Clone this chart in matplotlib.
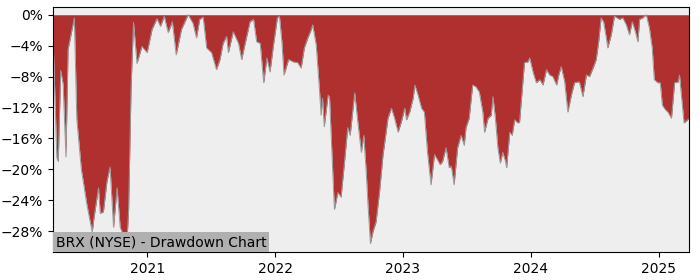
import pandas as pd
import matplotlib
matplotlib.use("Agg")
import matplotlib.pyplot as plt
import matplotlib.dates as mdates
from matplotlib.ticker import PercentFormatter, MultipleLocator

ticker = "BRX"
exchange = "NYSE"

# drawdown in percent
dates = [
    "2020-04-06", "2020-04-17", "2020-04-21", "2020-04-28", "2020-05-05", "2020-05-13",
    "2020-05-19", "2020-06-06", "2020-06-13", "2020-06-26", "2020-07-12", "2020-07-27",
    "2020-08-01", "2020-08-14", "2020-08-19", "2020-08-28", "2020-09-07", "2020-09-16",
    "2020-09-26", "2020-10-06", "2020-10-15", "2020-10-24", "2020-11-02", "2020-11-08",
    "2020-11-15", "2020-11-22", "2020-12-02", "2020-12-16", "2020-12-31", "2021-01-14",
    "2021-01-28", "2021-02-07", "2021-02-18", "2021-03-01", "2021-03-13", "2021-03-24",
    "2021-04-08", "2021-04-27", "2021-05-11", "2021-05-21", "2021-05-30", "2021-06-09",
    "2021-06-19", "2021-07-03", "2021-07-17", "2021-07-27", "2021-08-05", "2021-08-15",
    "2021-08-20", "2021-09-03", "2021-09-18", "2021-09-27", "2021-10-07", "2021-10-21",
    "2021-10-31", "2021-11-09", "2021-11-19", "2021-11-29", "2021-12-08", "2021-12-17",
    "2021-12-27", "2022-01-07", "2022-01-13", "2022-01-20", "2022-01-26", "2022-02-08",
    "2022-02-22", "2022-03-06", "2022-03-16", "2022-03-25", "2022-04-04", "2022-04-14",
    "2022-04-18", "2022-04-28", "2022-05-07", "2022-05-12", "2022-05-16", "2022-05-21",
    "2022-06-01", "2022-06-05", "2022-06-10", "2022-06-19", "2022-06-29", "2022-07-08",
    "2022-07-18", "2022-07-27", "2022-08-03", "2022-08-16", "2022-08-25", "2022-09-04",
    "2022-09-11", "2022-09-18", "2022-09-23", "2022-09-30", "2022-10-07", "2022-10-16",
    "2022-10-26", "2022-11-05", "2022-11-12", "2022-11-19", "2022-11-29", "2022-12-08",
    "2022-12-18", "2022-12-27", "2023-01-06", "2023-01-11", "2023-01-20", "2023-01-30",
    "2023-02-04", "2023-02-13", "2023-02-23", "2023-03-03", "2023-03-12", "2023-03-22",
    "2023-04-01", "2023-04-10", "2023-04-17", "2023-04-24", "2023-05-04", "2023-05-13",
    "2023-05-19", "2023-05-27", "2023-06-06", "2023-06-16", "2023-06-25", "2023-06-30",
    "2023-07-09", "2023-07-19", "2023-07-28", "2023-08-07", "2023-08-17", "2023-08-22",
    "2023-09-01", "2023-09-10", "2023-09-15", "2023-09-22", "2023-09-29", "2023-10-06",
    "2023-10-13", "2023-10-21", "2023-10-24", "2023-11-02", "2023-11-09", "2023-11-16",
    "2023-11-25", "2023-11-30", "2023-12-08", "2023-12-14", "2023-12-24", "2023-12-29",
    "2024-01-08", "2024-01-17", "2024-01-27", "2024-02-05", "2024-02-15", "2024-02-24",
    "2024-03-04", "2024-03-15", "2024-03-21", "2024-03-28", "2024-04-07", "2024-04-16",
    "2024-04-26", "2024-05-05", "2024-05-15", "2024-05-19", "2024-05-29", "2024-06-08",
    "2024-06-17", "2024-06-27", "2024-07-06", "2024-07-13", "2024-07-20", "2024-07-27",
    "2024-08-04", "2024-08-08", "2024-08-18", "2024-08-27", "2024-09-11", "2024-09-20",
    "2024-09-30", "2024-10-09", "2024-10-17", "2024-10-26", "2024-11-02", "2024-11-07",
    "2024-11-16", "2024-11-26", "2024-12-05", "2024-12-13", "2024-12-19", "2024-12-29",
    "2025-01-05", "2025-01-11", "2025-01-20", "2025-01-27", "2025-02-06", "2025-02-15",
    "2025-02-25", "2025-03-01", "2025-03-09", "2025-03-14", "2025-03-24", "2025-03-27",
]
drawdown = [
    -2.8, -18.5, -19.0, -7.2, -9.0, -18.4,
    -4.5, -0.4, -13.5, -20.0, -24.6, -28.1,
    -26.3, -22.4, -25.7, -25.5, -21.6, -19.7,
    -27.5, -22.4, -27.5, -28.5, -30.5, -25.3,
    -9.5, -1.0, -6.3, -4.1, -4.9, -1.9,
    -0.5, -1.5, -0.2, -2.3, -0.9, -5.2,
    -1.9, 0.0, -1.1, -3.0, -0.6, -0.3,
    -4.3, -4.9, -7.1, -5.8, -3.7, -2.8,
    -4.9, -2.2, -3.7, -5.8, -3.7, -0.9,
    -0.6, -3.5, -3.7, -8.8, -5.6, -7.4,
    -3.9, -0.4, -0.2, -3.5, -7.8, -5.8,
    -6.1, -6.2, -6.9, -4.3, -3.0, -1.9,
    -1.3, -3.9, -9.5, -13.0, -10.8, -14.5,
    -10.4, -10.6, -15.9, -25.2, -23.0, -23.6,
    -19.0, -14.6, -15.6, -10.1, -13.9, -17.8,
    -15.6, -20.4, -24.6, -29.6, -28.1, -26.8,
    -22.9, -18.1, -15.8, -13.4, -12.1, -13.4,
    -15.2, -13.9, -12.1, -13.6, -12.6, -10.8,
    -9.1, -10.4, -12.1, -12.6, -17.8, -22.0,
    -18.1, -18.8, -19.4, -19.0, -17.2, -19.8,
    -19.6, -22.0, -17.2, -15.6, -16.9, -14.6,
    -13.4, -9.1, -9.3, -10.0, -12.6, -15.2,
    -13.4, -13.0, -10.6, -13.4, -17.2, -19.2,
    -17.8, -19.0, -19.8, -15.2, -15.6, -13.6,
    -14.0, -13.9, -9.5, -6.2, -6.1, -5.6,
    -7.5, -8.8, -8.4, -9.1, -7.1, -7.8,
    -8.0, -9.1, -7.8, -6.7, -8.7, -12.6,
    -10.4, -8.8, -8.7, -8.7, -10.6, -7.8,
    -8.0, -6.9, -5.8, -3.5, -0.4, -0.9,
    -3.0, -4.3, -2.6, -0.2, -0.6, -0.4,
    -1.3, -2.6, -0.9, -2.2, -3.5, -0.6,
    -0.4, 0.0, -1.7, -4.3, -8.4, -8.8,
    -8.8, -11.7, -12.3, -12.6, -13.4, -8.8,
    -8.7, -7.8, -11.7, -14.0, -13.6, -13.5,
]

dd = pd.Series(drawdown, index=pd.to_datetime(dates))

fig = plt.figure(figsize=(7, 2.8), dpi=100)
ax = fig.add_axes([0.0757, 0.1, 0.908, 0.875])
ax.set_facecolor("#eeeeee")

ax.fill_between(dd.index, 0, dd.values, color="#b03030", linewidth=0)
ax.plot(dd.index, dd.values, color="#999999", linewidth=0.7)

ax.set_xlim(dd.index[0], dd.index[-1])
ax.set_ylim(-30.7, 1.0)
ax.yaxis.set_major_locator(MultipleLocator(4))
ax.yaxis.set_major_formatter(PercentFormatter(decimals=0))
ax.xaxis.set_major_locator(mdates.YearLocator())
ax.xaxis.set_major_formatter(mdates.DateFormatter("%Y"))

ax.text(0.004, 0.012, f"{ticker} ({exchange}) - Drawdown Chart", transform=ax.transAxes,
        fontsize=10, ha="left", va="bottom",
        bbox=dict(facecolor="#b0b0b0", edgecolor="none", pad=2))

fig.savefig("out.png", dpi=100)
